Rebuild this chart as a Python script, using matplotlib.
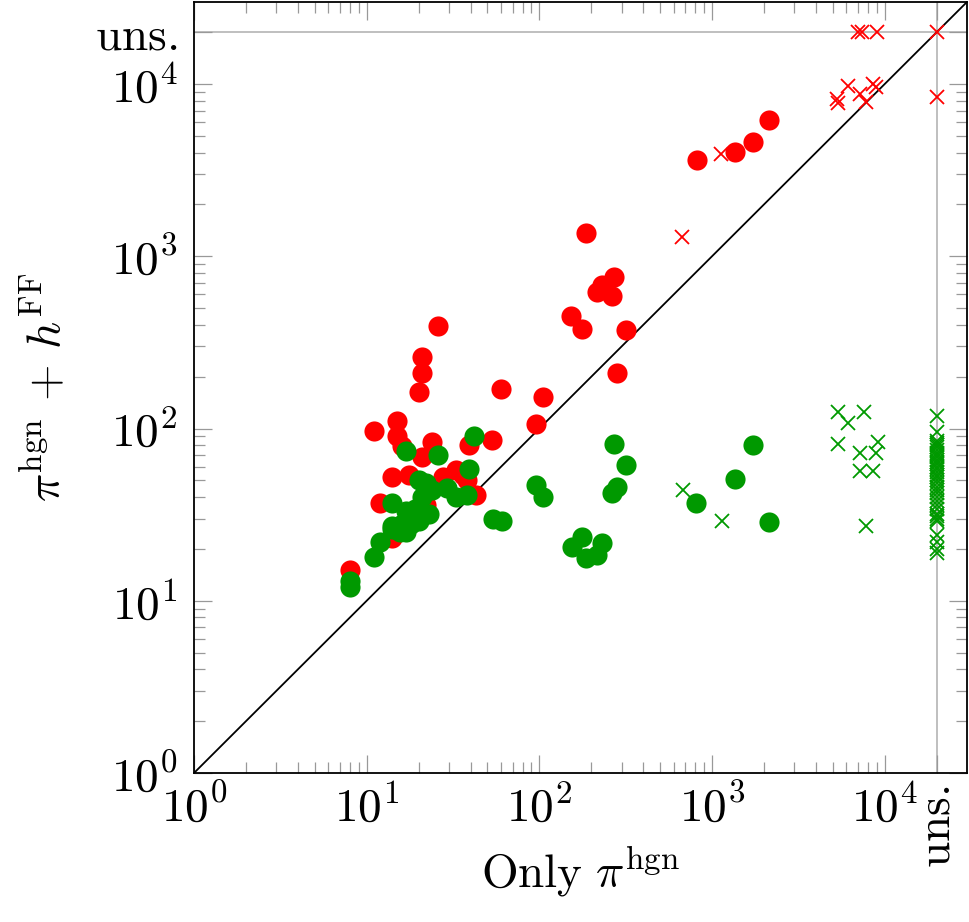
import matplotlib
matplotlib.use("Agg")
from matplotlib import pyplot as plt
from matplotlib.ticker import FixedLocator, FixedFormatter

plt.rcParams['mathtext.fontset'] = 'cm'

UNS = 2e4

# solved in both (circles) - red
red_x = [8, 11, 12, 14, 14, 15, 15, 16, 17.7, 20, 21, 21, 26, 24, 21, 27.5, 33, 36, 38, 39, 43, 53,
         22, 60, 105, 96, 187, 270, 230, 215, 265, 153, 177, 318, 280, 820, 1350, 1730, 2150]
red_y = [15, 97, 37, 52.5, 23, 110, 90, 79, 54, 163, 210, 260, 395, 83, 68, 52, 57.6, 54, 50, 80, 41, 86,
         36, 170, 152, 106, 1360, 760, 680, 620, 585, 448, 378, 372, 209, 3600, 4050, 4600, 6200]

# solved in both (circles) - green
green_x = [8, 8, 11, 12, 14, 14, 14, 15.5, 17, 17, 17, 19.5, 20, 21, 22, 23, 26, 24, 29, 33, 38, 39, 42,
           16, 18, 19, 20, 18, 54, 61, 96, 105, 270, 318, 282, 264, 177, 155, 187, 216, 231,
           810, 1360, 1730, 2140]
green_y = [13, 12, 18, 22, 26, 27, 37, 25, 25, 33, 74, 30, 50, 40, 48, 32, 70, 44, 45, 40, 41, 58, 91,
           28, 31, 34, 29, 28, 30, 29, 47, 40, 81, 61, 46, 42.5, 23.5, 20.6, 17.8, 18.5, 21.7,
           37, 51, 80, 28.5]

# crosses (one side timed out / unsolved)
red_cross_x = [670, 1130, 5300, 5400, 6100, 7200, 7800, 8500, 8900, 7000, 7400, 9000, UNS, UNS]
red_cross_y = [1290, 3950, 8200, 7800, 9700, 8700, 7900, 10000, 9600, UNS, UNS, UNS, UNS, 8400]

green_cross_x = [680, 1140, 5400, 6100, 7600, 5400, 7200, 9100, 8900, 7200, 8500, 7800]
green_cross_y = [44, 29, 124, 107, 124, 81, 72, 83, 72, 57, 57, 27]
green_uns_y = [119, 95, 85, 82, 80, 78, 75, 72, 70, 68, 66, 64, 62, 60, 58, 56, 54, 52, 50, 48,
               46, 44, 42, 40, 38, 36, 34, 32, 31, 30, 29, 24, 22, 20, 19]

major_ticks = [1, 10, 100, 1000, 10000, UNS]
major_labels = [r'$10^{0}$', r'$10^{1}$', r'$10^{2}$', r'$10^{3}$', r'$10^{4}$', r'$\mathrm{uns.}$']
minor_ticks = [m * 10**k for k in range(4) for m in range(2, 10)]

lo, hi = 1, 3e4

fig = plt.figure(figsize=(9.7, 9.22), dpi=100)
ax = fig.add_axes([0.2, 0.1616, 0.797, 0.8364])

ax.set_xscale('log')
ax.set_yscale('log')
ax.set_xlim(lo, hi)
ax.set_ylim(lo, hi)

ax.axvline(UNS, color='#b4b4b4', lw=1.2, zorder=1)
ax.axhline(UNS, color='#b4b4b4', lw=1.2, zorder=1)
ax.plot([lo, hi], [lo, hi], color='black', lw=1.3, zorder=2)

ax.plot(red_x, red_y, 'o', color='#ff0000', ms=14.5, mew=0, zorder=3)
ax.plot(green_x, green_y, 'o', color='#009900', ms=14.5, mew=0, zorder=4)
ax.plot(red_cross_x, red_cross_y, 'x', color='#ff0000', ms=10, mew=1.3, zorder=5)
ax.plot(green_cross_x, green_cross_y, 'x', color='#009900', ms=10, mew=1.3, zorder=5)
ax.plot([UNS] * len(green_uns_y), green_uns_y, 'x', color='#009900', ms=10, mew=1.3, zorder=5)

for axis in (ax.xaxis, ax.yaxis):
    axis.set_major_locator(FixedLocator(major_ticks))
    axis.set_major_formatter(FixedFormatter(major_labels))
    axis.set_minor_locator(FixedLocator(minor_ticks))
    axis.set_minor_formatter(FixedFormatter([]))

ax.tick_params(which='both', direction='in', top=True, right=True, color='#999999', width=0.9)
ax.tick_params(which='major', length=13, labelsize=34, pad=9)
ax.tick_params(which='minor', length=8)
ax.tick_params(axis='y', pad=12)

ax.get_xticklabels()[-1].set_rotation(90)
for lab in ax.get_xticklabels():
    lab.set_verticalalignment('top')

for s in ax.spines.values():
    s.set_linewidth(1.3)

ax.set_xlabel(r'$\mathrm{Only}\ \pi^{\mathrm{hgn}}$', fontsize=34)
ax.xaxis.set_label_coords(0.5, -0.093)
ax.set_ylabel(r'$\pi^{\mathrm{hgn}}\,+\,h^{\mathrm{FF}}$', fontsize=34, labelpad=18)

plt.savefig('out.png', dpi=100)
